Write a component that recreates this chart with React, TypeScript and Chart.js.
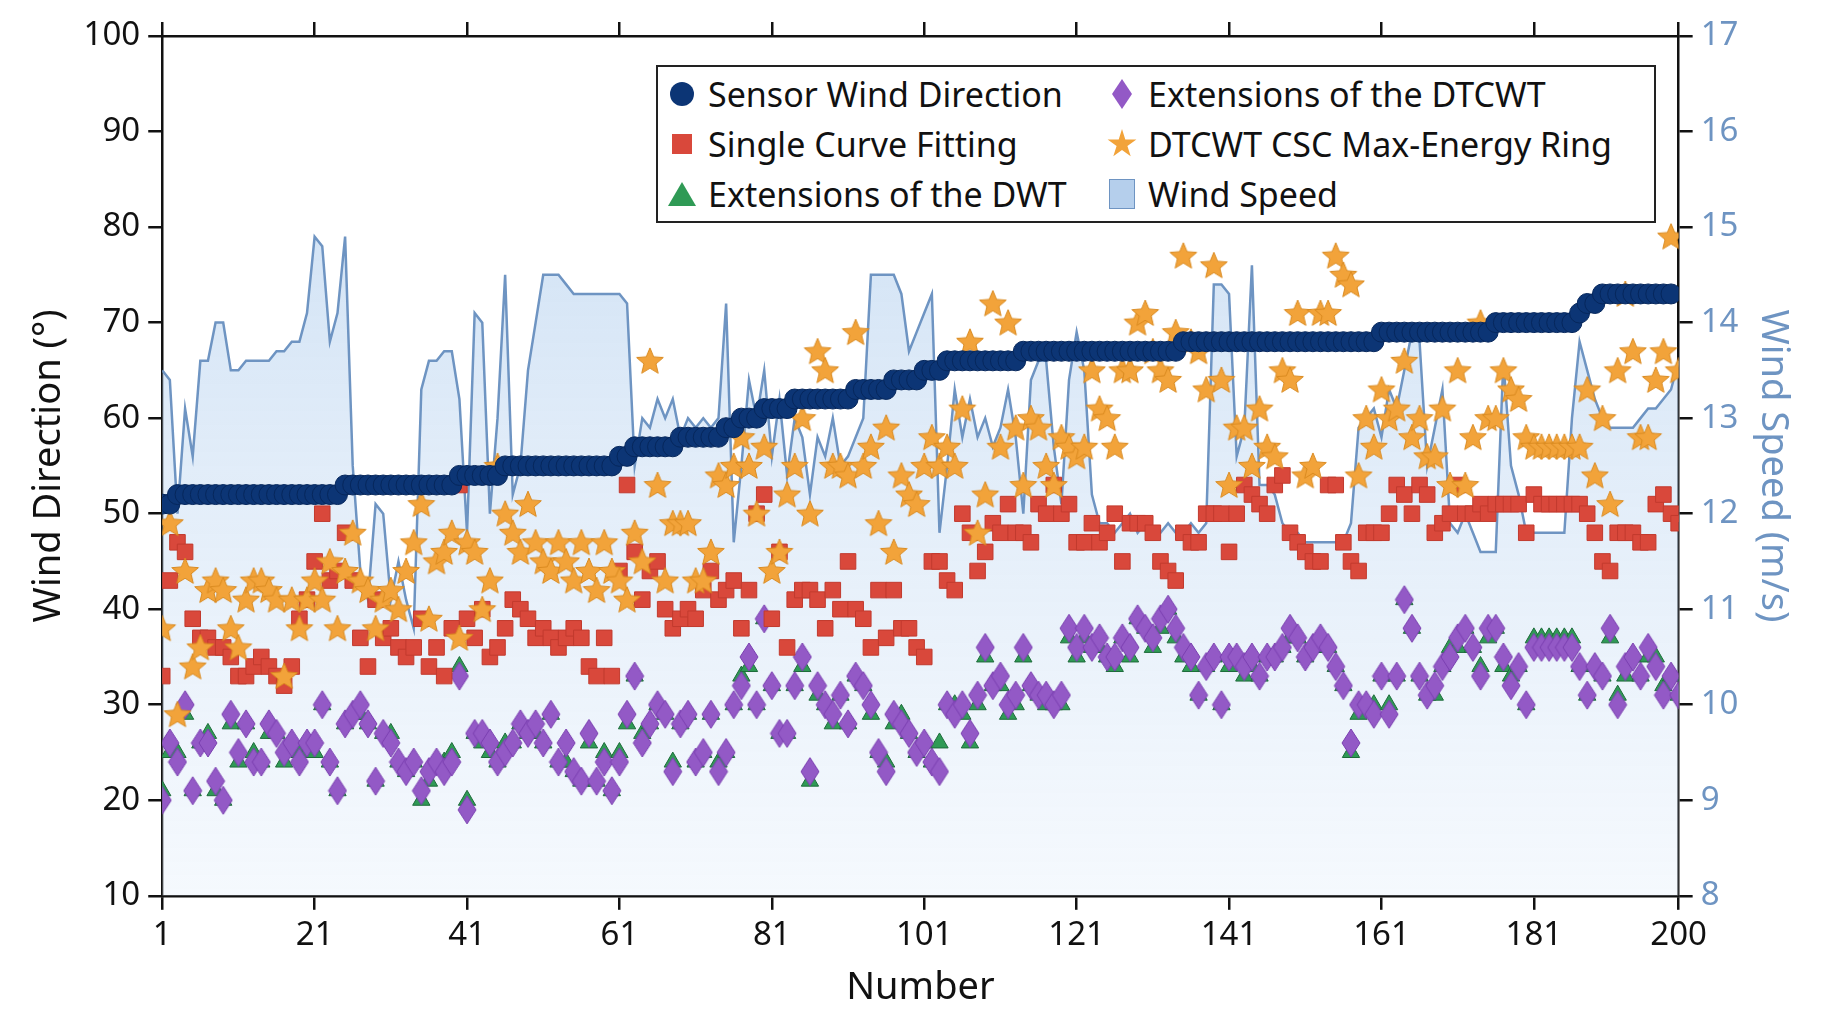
import React, { useEffect, useRef } from "react";
import { Chart, registerables } from "chart.js";
Chart.register(...registerables);

const xTicks = [1, 21, 41, 61, 81, 101, 121, 141, 161, 181, 200];
const sensorRuns: [number, number][] = [[51,2],[52,22],[53,15],[54,6],[55,15],[56,2],[57,6],[58,6],[59,2],[60,3],[61,4],[62,8],[63,5],[64,4],[65,3],[66,10],[67,21],[68,26],[69,15],[70,11],[71,1],[72,2],[73,10]];
const sensor: number[] = [];
sensorRuns.forEach(([v, n]) => { for (let k = 0; k < n; k++) sensor.push(v); });

const windL = [65,64,50,61,56,66,66,70,70,65,65,66,66,66,66,67,67,68,68,71,79,78,68,71,79,55,44,41,51,50,41,45,41,38,63,66,66,67,67,62,
48,71,70,50,60,75,52,55,65,70,75,75,75,74,73,73,73,73,73,73,73,72,55,60,59,62,60,62,58,60,59,60,59,60,72,47,55,64,60,65,
56,62,54,60,58,52,58,56,60,55,56,58,60,75,75,75,75,73,67,69,71,73,48,55,63,58,62,58,60,57,59,63,58,50,64,66,66,57,51,64,
69,65,52,49,49,48,49,50,48,49,48,48,49,48,48,49,48,49,74,74,73,56,59,76,53,53,52,49,48,48,47,47,47,47,47,47,49,59,60,61,
58,63,61,65,69,68,55,59,63,49,48,50,48,46,46,46,66,55,52,48,48,48,48,48,48,60,68,65,62,60,59,59,59,59,60,61,61,62,63,66];
const windSpeed = windL.map(v => 8 + (v - 10) / 10);

const singleCurve = [33,43,47,46,39,37,37,36,36,35,33,33,34,35,34,33,32,34,39,41,
45,50,43,44,48,43,37,34,41,37,38,36,35,36,39,34,36,33,38,53,
39,37,40,35,36,38,41,40,39,37,38,37,36,37,38,37,34,33,37,33,
44,53,46,41,44,45,40,38,39,40,39,42,44,41,42,43,38,42,50,52,
39,46,36,41,42,42,41,38,42,40,45,40,39,36,42,37,42,38,38,36,
35,45,45,43,42,50,48,44,46,49,48,51,48,48,47,51,50,53,50,51,
47,47,49,47,48,50,45,49,49,49,48,45,44,43,48,47,47,50,50,50,
46,50,53,52,51,50,53,54,48,47,46,45,45,53,53,47,45,44,48,48,
48,50,53,52,50,53,52,48,49,50,53,50,50,51,50,51,51,51,51,48,
52,51,51,51,51,51,51,50,48,45,44,48,48,48,47,47,51,52,50,49];

const cscRing = [38,49,29,44,34,36,42,43,42,38,36,41,43,43,42,41,33,41,38,41,
43,41,45,38,44,48,43,42,38,41,42,40,44,47,51,39,45,46,48,37,
47,46,40,43,55,50,48,46,51,47,45,44,47,45,43,47,44,42,47,44,
43,41,48,45,66,53,43,49,49,49,43,43,46,54,53,55,58,55,50,57,
44,46,52,55,60,50,67,65,55,55,54,69,55,57,49,59,46,54,52,51,
55,58,55,57,55,61,68,48,52,72,57,70,59,53,60,59,55,53,58,57,
56,57,65,61,60,57,65,65,70,71,67,65,64,69,77,68,67,63,76,64,
53,59,59,55,61,57,56,65,64,71,54,55,71,71,77,75,74,54,60,57,
63,60,61,66,58,60,56,56,61,53,65,53,58,70,60,60,65,63,62,58,
57,57,57,57,57,57,57,63,54,60,51,65,73,67,58,58,64,67,79,65];

const dtcwt = [20,26,24,30,21,26,26,22,20,29,25,28,24,24,28,27,25,26,24,26,
26,30,24,21,28,29,30,28,22,27,26,24,23,24,21,23,24,23,24,33,
19,27,27,26,24,25,26,28,27,28,26,29,24,26,23,22,27,22,24,21,
24,29,33,26,28,30,29,23,28,29,24,25,29,23,25,30,32,35,30,39,
32,27,27,32,35,23,32,30,29,31,28,33,32,30,25,23,29,28,27,25,
26,24,23,30,29,30,27,31,36,32,33,30,31,36,32,31,31,30,31,38,
36,38,36,37,35,35,37,36,39,38,37,39,40,38,36,35,31,34,35,30,
35,35,34,35,33,35,35,36,38,37,35,36,37,36,34,32,26,30,30,29,
33,29,33,41,38,33,31,32,34,35,37,38,36,33,38,38,35,32,34,30,
36,36,36,36,36,36,34,31,34,33,38,30,34,35,33,36,34,31,33,31];

const dwt = [21,25,25,29,21,26,27,21,20,28,24,28,25,24,27,27,24,26,25,25,
25,30,24,21,28,29,29,28,22,27,27,24,23,24,20,22,24,24,25,34,
20,27,26,25,24,26,26,28,27,27,26,29,24,24,23,22,26,22,25,21,
25,28,33,27,28,30,29,24,28,29,24,25,29,24,25,30,33,34,30,39,
32,27,27,32,34,22,31,30,28,31,28,33,32,29,25,24,28,29,27,25,
26,24,26,30,30,29,26,30,35,32,32,29,30,35,32,31,30,30,30,37,
35,37,36,36,35,34,37,35,39,38,36,38,40,37,35,34,31,34,35,30,
34,35,33,34,33,35,35,36,37,37,35,36,36,36,34,32,25,29,30,30,
33,30,33,41,38,33,31,31,34,36,36,38,36,34,37,38,34,33,34,30,
37,37,37,37,37,37,34,31,34,33,37,31,33,35,33,35,35,32,33,31];

const labels = Array.from({ length: 200 }, (_, i) => i + 1);
const xy = (arr: number[]) => arr.map((y, i) => ({ x: i + 1, y }));

function starImg(size: number, fill: string, stroke: string) {
  const c = document.createElement("canvas");
  c.width = size; c.height = size;
  const g = c.getContext("2d")!;
  const cx = size / 2, cy = size / 2 + 1, R = size / 2 - 1, r = R * 0.45;
  g.beginPath();
  for (let k = 0; k < 10; k++) {
    const a = -Math.PI / 2 + (k * Math.PI) / 5;
    const rr = k % 2 === 0 ? R : r;
    g.lineTo(cx + rr * Math.cos(a), cy + rr * Math.sin(a));
  }
  g.closePath(); g.fillStyle = fill; g.fill(); g.strokeStyle = stroke; g.lineWidth = 1; g.stroke();
  return c;
}
function diamondImg(w: number, h: number, fill: string, stroke: string) {
  const c = document.createElement("canvas");
  c.width = w; c.height = h;
  const g = c.getContext("2d")!;
  g.beginPath(); g.moveTo(w / 2, 1); g.lineTo(w - 1, h / 2); g.lineTo(w / 2, h - 1); g.lineTo(1, h / 2); g.closePath();
  g.fillStyle = fill; g.fill(); g.strokeStyle = stroke; g.lineWidth = 1; g.stroke();
  return c;
}

const FONT = "'Noto Sans', sans-serif";

export default function App() {
  const ref = useRef<HTMLCanvasElement>(null);
  useEffect(() => {
    const star = starImg(30, "#f2a33a", "#d98a20");
    const dia = diamondImg(20, 30, "#9359c6", "#7a3fb0");
    const chart = new Chart(ref.current!, {
      type: "scatter",
      data: {
        labels,
        datasets: [
          { label: "Sensor Wind Direction", data: xy(sensor), pointStyle: "circle", pointRadius: 10, backgroundColor: "#0c3575", borderColor: "#06275c", borderWidth: 1, order: 1 },
          { label: "DTCWT CSC Max-Energy Ring", data: xy(cscRing), pointStyle: star as any, order: 2 },
          { label: "Single Curve Fitting", data: xy(singleCurve), pointStyle: "rect", pointRadius: 11, backgroundColor: "#d9483b", borderColor: "#c23a2e", borderWidth: 1, order: 3 },
          { label: "Extensions of the DTCWT", data: xy(dtcwt), pointStyle: dia as any, order: 4 },
          { label: "Extensions of the DWT", data: xy(dwt), pointStyle: "triangle", pointRadius: 10, backgroundColor: "#2f9a55", borderColor: "#1d6b3a", borderWidth: 1, order: 5 },
          {
            type: "line", label: "Wind Speed", data: xy(windSpeed), yAxisID: "y2", borderColor: "#6e94c2", borderWidth: 2.5, pointRadius: 0, fill: "start", tension: 0, order: 10,
            backgroundColor: (ctx: any) => {
              const ca = ctx.chart.chartArea;
              if (!ca) return "rgba(190,215,240,0.5)";
              const gr = ctx.chart.ctx.createLinearGradient(0, ca.top, 0, ca.bottom);
              gr.addColorStop(0, "rgba(180,208,238,0.75)");
              gr.addColorStop(1, "rgba(235,243,252,0.5)");
              return gr;
            },
          } as any,
        ],
      },
      options: {
        animation: false, responsive: false,
        layout: { padding: { left: 22, right: 30, top: 22, bottom: 12 } },
        plugins: { legend: { display: false }, tooltip: { enabled: false } },
        scales: {
          x: {
            type: "linear", min: 1, max: 200,
            afterBuildTicks: (s: any) => { s.ticks = xTicks.map(v => ({ value: v })); },
            ticks: { color: "#111", font: { family: FONT, size: 33 }, padding: 6, maxRotation: 0 },
            grid: { drawOnChartArea: false, drawTicks: true, tickLength: 14, color: "#111", lineWidth: 2.5 },
            border: { color: "#111", width: 2.5 },
            title: { display: true, text: "Number", color: "#111", font: { family: FONT, size: 38 }, padding: { top: 4 } },
          },
          x2: {
            type: "linear", position: "top", min: 1, max: 200,
            afterBuildTicks: (s: any) => { s.ticks = xTicks.map(v => ({ value: v })); },
            ticks: { display: false },
            grid: { drawOnChartArea: false, drawTicks: true, tickLength: 14, color: "#111", lineWidth: 2.5 },
            border: { color: "#111", width: 2.5 },
          },
          y: {
            min: 10, max: 100, position: "left",
            ticks: { stepSize: 10, color: "#111", font: { family: FONT, size: 33 }, padding: 8 },
            grid: { drawOnChartArea: false, drawTicks: true, tickLength: 14, color: "#111", lineWidth: 2.5 },
            border: { color: "#111", width: 2.5 },
            title: { display: true, text: "Wind Direction (°)", color: "#111", font: { family: FONT, size: 38 } },
          },
          y2: {
            min: 8, max: 17, position: "right",
            ticks: { stepSize: 1, color: "#6e94c2", font: { family: FONT, size: 33 }, padding: 8 },
            grid: { drawOnChartArea: false, drawTicks: true, tickLength: 14, color: "#111", lineWidth: 2.5 },
            border: { color: "#111", width: 2.5 },
            title: { display: true, text: "Wind Speed (m/s)", color: "#6e94c2", font: { family: FONT, size: 38 } },
          },
        },
      } as any,
    });
    return () => chart.destroy();
  }, []);

  const item = (sym: React.ReactNode, text: string) => (
    <div style={{ display: "flex", alignItems: "center", height: 50 }}>
      <div style={{ width: 36, display: "flex", justifyContent: "center" }}>{sym}</div>
      <span style={{ marginLeft: 8 }}>{text}</span>
    </div>
  );
  return (
    <div style={{ position: "fixed", left: 0, top: 0, width: 1830, height: 1027, background: "#fff" }}>
      <canvas ref={ref} width={1830} height={1027} style={{ width: 1830, height: 1027 }} />
      <div style={{ position: "absolute", left: 656, top: 65, width: 1000, height: 158, border: "2.5px solid #222", background: "#fff", boxSizing: "border-box", fontFamily: FONT, fontSize: 34, color: "#111", display: "grid", gridTemplateColumns: "440px 550px", padding: "2px 6px" }}>
        {item(<div style={{ width: 24, height: 24, borderRadius: 12, background: "#0c3575" }} />, "Sensor Wind Direction")}
        {item(<div style={{ width: 20, height: 30, background: "#9359c6", clipPath: "polygon(50% 0,100% 50%,50% 100%,0 50%)" }} />, "Extensions of the DTCWT")}
        {item(<div style={{ width: 20, height: 20, background: "#d9483b" }} />, "Single Curve Fitting")}
        {item(<div style={{ width: 30, height: 30, background: "#f2a33a", clipPath: "polygon(50% 0,61% 35%,98% 35%,68% 57%,79% 91%,50% 70%,21% 91%,32% 57%,2% 35%,39% 35%)" }} />, "DTCWT CSC Max-Energy Ring")}
        {item(<div style={{ width: 0, height: 0, borderLeft: "14px solid transparent", borderRight: "14px solid transparent", borderBottom: "24px solid #2f9a55" }} />, "Extensions of the DWT")}
        {item(<div style={{ width: 24, height: 28, background: "#b5cfec", border: "1px solid #6e94c2" }} />, "Wind Speed")}
      </div>
    </div>
  );
}
